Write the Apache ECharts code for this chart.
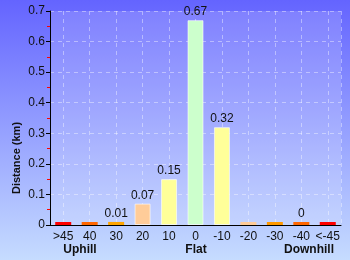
<!DOCTYPE html>
<html>
<head>
<meta charset="utf-8">
<script src="https://cdn.jsdelivr.net/npm/echarts@6/dist/echarts.min.js"></script>
<style>
  html, body { margin: 0; padding: 0; }
  #barChart { width: 350px; height: 260px; }
</style>
</head>
<body>
<div id="barChart"></div>
<script>
// slope classes (percent grade) and distance (km) in each
const categories = ['>45', '40', '30', '20', '10', '0', '-10', '-20', '-30', '-40', '<-45']
const distances = [0.003, 0.003, 0.01, 0.07, 0.15, 0.67, 0.32, 0.003, 0.003, 0.004, 0.003]
const showValue = [false, false, true, true, true, true, true, false, false, true, false]
const barColors = ['#ff0000', '#ff6600', '#ffa500', '#ffcc99', '#ffff99', '#ccffcc',
  '#ffff99', '#ffcc99', '#ff9900', '#ff6600', '#ff0000']
const groupLabels = [
  { text: 'Uphill', x: 80 },
  { text: 'Flat', x: 196 },
  { text: 'Downhill', x: 309 }
]

const myBarChart = echarts.init(document.getElementById('barChart'))

// half-category axis, only used to put the vertical grid lines on the bar centres
const halfCats = []
categories.forEach((c) => { halfCats.push(c + 'a', c + 'b') })

const dashed = { type: [4, 4], color: 'rgba(255,255,255,0.4)' }

const chartOption = {
  animation: false,
  backgroundColor: {
    type: 'linear', x: 0, y: 0, x2: 0, y2: 1,
    colorStops: [
      { offset: 0, color: '#6464ff' },
      { offset: 1, color: '#c6dcff' }
    ]
  },
  grid: {
    left: 50,
    right: 9,
    top: 11,
    bottom: 35,
    show: true,
    borderWidth: 0,
    backgroundColor: 'rgba(255,255,255,0.16)'
  },
  graphic: [
    {
      type: 'text',
      x: 17,
      y: 158,
      rotation: Math.PI / 2,
      style: {
        text: 'Distance (km)',
        fontFamily: 'Liberation Sans',
        fontWeight: 'bold',
        fontSize: 11,
        fill: '#111',
        align: 'center',
        verticalAlign: 'middle'
      }
    }
  ].concat(groupLabels.map((g) => ({
    type: 'text',
    x: g.x,
    y: 250,
    style: {
      text: g.text,
      fontFamily: 'Liberation Sans',
      fontWeight: 'bold',
      fontSize: 12,
      fill: '#111',
      align: 'center',
      verticalAlign: 'middle'
    }
  }))),
  xAxis: [
    {
      type: 'category',
      data: categories,
      axisLine: { lineStyle: { color: '#000', width: 1 } },
      axisTick: { show: false },
      axisLabel: {
        interval: 0,
        color: '#111',
        fontFamily: 'Liberation Sans',
        fontSize: 12,
        margin: 6
      },
      splitLine: { show: false },
      z: 3
    },
    {
      type: 'category',
      data: halfCats,
      position: 'bottom',
      axisLine: { show: false },
      axisTick: { show: false },
      axisLabel: { show: false },
      splitLine: {
        show: true,
        interval: (i) => i % 2 === 1,
        lineStyle: dashed
      }
    }
  ],
  yAxis: {
    type: 'value',
    min: 0,
    max: 0.7,
    interval: 0.1,
    axisLine: { show: true, lineStyle: { color: '#000', width: 1 } },
    axisTick: { show: true, length: 4, lineStyle: { color: '#000' } },
    minorTick: { show: true, splitNumber: 2, length: 3, lineStyle: { color: '#ff0000' } },
    axisLabel: {
      color: '#111',
      fontFamily: 'Liberation Sans',
      fontSize: 12,
      margin: 5,
      formatter: (v) => (v === 0 ? '0' : v.toFixed(1))
    },
    splitLine: { lineStyle: dashed }
  },
  series: [
    {
      type: 'bar',
      xAxisIndex: 0,
      barWidth: 16,
      barMinHeight: 3,
      data: distances.map((v, i) => ({
        value: v,
        itemStyle: {
          color: barColors[i],
          borderWidth: v > 0.05 ? 1 : 0
        },
        label: { show: showValue[i] }
      })),
      itemStyle: {
        borderColor: 'rgba(255,255,255,0.6)'
      },
      label: {
        position: 'top',
        distance: 2,
        color: '#111',
        fontFamily: 'Liberation Sans',
        fontSize: 12,
        formatter: (p) => String(Number(p.value.toFixed(2)))
      }
    }
  ]
}

myBarChart.setOption(chartOption, true)
</script>
</body>
</html>
